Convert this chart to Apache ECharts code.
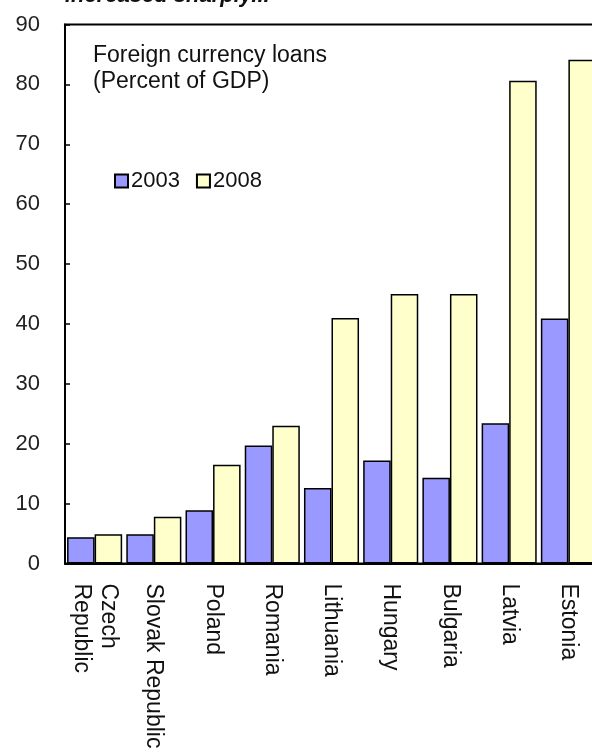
<!DOCTYPE html>
<html>
<head>
<meta charset="utf-8">
<script src="https://cdn.jsdelivr.net/npm/echarts@6/dist/echarts.min.js"></script>
<style>
  html, body { margin: 0; padding: 0; background: #fff; }
  #main { width: 592px; height: 755px; }
</style>
</head>
<body>
<div id="main"></div>
<script>
const countries = ['Czech\nRepublic', 'Slovak Republic', 'Poland', 'Romania', 'Lithuania', 'Hungary', 'Bulgaria', 'Latvia', 'Estonia']
const loans2003 = [4.4, 4.9, 8.9, 19.7, 12.6, 17.2, 14.3, 23.4, 40.9]
const loans2008 = [4.9, 7.8, 16.5, 23.0, 41.0, 45.0, 45.0, 80.6, 84.1]
const yTicks = [0, 90, 10] // min, max, interval

const font = 'Liberation Sans, Arial, sans-serif'
const chart = echarts.init(document.getElementById('main'), null, { renderer: 'canvas' })

const option = {
  animation: false,
  textStyle: { fontFamily: font },
  grid: {
    left: 65,
    top: 24.5,
    width: 533,
    height: 539,
    outerBoundsMode: 'none',
    containLabel: false,
    show: true,
    borderColor: '#000',
    borderWidth: 2,
    backgroundColor: 'transparent'
  },
  legend: {
    data: ['2003', '2008'],
    left: 114,
    top: 170,
    padding: 0,
    icon: 'rect',
    itemWidth: 13,
    itemHeight: 13,
    itemGap: 16,
    textStyle: { fontSize: 22, color: '#111', fontFamily: font, padding: [0, 0, 0, -2] }
  },
  graphic: [{
    type: 'text',
    left: 65,
    top: -15,
    style: {
      text: 'increased sharply...',
      font: 'italic bold 22px ' + font,
      fill: '#111'
    }
  }, {
    type: 'text',
    left: 93,
    top: 43,
    style: {
      text: 'Foreign currency loans\n(Percent of GDP)',
      font: '23px ' + font,
      lineHeight: 26,
      fill: '#111'
    }
  }],
  xAxis: {
    type: 'category',
    data: countries,
    axisLine: { lineStyle: { color: '#000', width: 2 } },
    axisTick: { inside: true, length: 5, lineStyle: { color: '#000', width: 2 } },
    axisLabel: {
      rotate: -90,
      interval: 0,
      margin: 20,
      fontSize: 23,
      lineHeight: 27,
      color: '#111'
    }
  },
  yAxis: {
    type: 'value',
    min: yTicks[0],
    max: yTicks[1],
    interval: yTicks[2],
    splitLine: { show: false },
    axisLine: { show: true, lineStyle: { color: '#000', width: 2 } },
    axisTick: { show: true, inside: true, length: 5, lineStyle: { color: '#000', width: 1.5 } },
    axisLabel: { fontSize: 22, color: '#222', margin: 25 }
  },
  series: [{
    name: '2003',
    type: 'bar',
    data: loans2003,
    barGap: '0%',
    barCategoryGap: '7%',
    itemStyle: { color: '#9999ff', borderColor: '#000', borderWidth: 1.5 }
  }, {
    name: '2008',
    type: 'bar',
    data: loans2008,
    barGap: '0%',
    barCategoryGap: '7%',
    itemStyle: { color: '#ffffcc', borderColor: '#000', borderWidth: 1.5 }
  }]
}

chart.setOption(option)
</script>
</body>
</html>
